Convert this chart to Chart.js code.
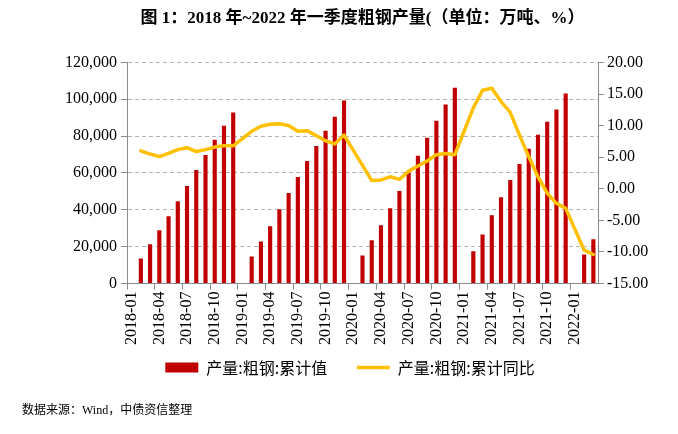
<!DOCTYPE html>
<html>
<head>
<meta charset="utf-8">
<script src="https://cdn.jsdelivr.net/npm/chart.js@4.4.1/dist/chart.umd.min.js"></script>
<style>
  html, body { margin: 0; padding: 0; background: #fff; }
  #wrap { width: 678px; height: 434px; }
</style>
</head>
<body>
<div id="wrap"><canvas id="chart" width="678" height="434"></canvas></div>
<script>
// months 2018-01 .. 2022-03 (January has no separate release, so it is empty)
const months = [
  '2018-01', '2018-02', '2018-03', '2018-04', '2018-05', '2018-06', '2018-07', '2018-08', '2018-09', '2018-10', '2018-11', '2018-12',
  '2019-01', '2019-02', '2019-03', '2019-04', '2019-05', '2019-06', '2019-07', '2019-08', '2019-09', '2019-10', '2019-11', '2019-12',
  '2020-01', '2020-02', '2020-03', '2020-04', '2020-05', '2020-06', '2020-07', '2020-08', '2020-09', '2020-10', '2020-11', '2020-12',
  '2021-01', '2021-02', '2021-03', '2021-04', '2021-05', '2021-06', '2021-07', '2021-08', '2021-09', '2021-10', '2021-11', '2021-12',
  '2022-01', '2022-02', '2022-03'
];

// 产量:粗钢:累计值 (万吨)
const output = [
  null, 13600, 21300, 28900, 36500, 44700, 52900, 61600, 69800, 78000, 85600, 92800,
  null, 14700, 22900, 31100, 40400, 49100, 57800, 66500, 74700, 82900, 90500, 99300,
  null, 15300, 23500, 31600, 40900, 50200, 60000, 69300, 79100, 88400, 97100, 106200,
  null, 17500, 26700, 37100, 46900, 56200, 64900, 73100, 80700, 87800, 94400, 103100,
  null, 15800, 24000
];

// 产量:粗钢:累计同比 (%)
const yoy = [
  null, 6.0, 5.5, 5.1, 5.6, 6.2, 6.5, 5.9, 6.2, 6.6, 6.8, 6.8,
  null, 9.1, 9.9, 10.2, 10.3, 10.0, 9.1, 9.2, 8.4, 7.6, 7.1, 8.5,
  null, 3.7, 1.3, 1.4, 1.9, 1.5, 2.8, 3.6, 4.4, 5.4, 5.6, 5.4,
  null, 12.8, 15.6, 15.9, 13.8, 12.1, 8.5, 5.1, 1.9, -0.7, -2.3, -3.1,
  null, -9.7, -10.4
];

const titleText = '图 1：2018 年~2022 年一季度粗钢产量(（单位：万吨、%）';
const sourceText = '数据来源：Wind，中债资信整理';

const latin = "'Liberation Serif', 'Noto Sans CJK SC'";
const cjk = "'Noto Sans CJK SC', 'Liberation Sans'";
const axisGray = '#8c8c8c';

const ctx = document.getElementById('chart').getContext('2d');

new Chart(ctx, {
  data: {
    labels: months,
    datasets: [
      {
        type: 'bar',
        label: '产量:粗钢:累计值',
        data: output,
        backgroundColor: '#C00000',
        borderWidth: 0,
        barPercentage: 0.5,
        categoryPercentage: 0.9,
        yAxisID: 'y',
        order: 1
      },
      {
        type: 'line',
        label: '产量:粗钢:累计同比',
        data: yoy,
        borderColor: '#FFC000',
        backgroundColor: '#FFC000',
        borderWidth: 3.5,
        borderJoinStyle: 'round',
        borderCapStyle: 'round',
        pointRadius: 0,
        tension: 0,
        spanGaps: true,
        yAxisID: 'y1',
        order: 0
      }
    ]
  },
  options: {
    responsive: false,
    animation: false,
    layout: { padding: { left: 22, right: 0, top: 0, bottom: 12 } },
    plugins: {
      title: {
        display: true,
        text: titleText,
        fullSize: false,
        color: '#000',
        font: { family: latin, size: 17, weight: 'bold' },
        padding: { top: 8, bottom: 34 }
      },
      subtitle: {
        display: true,
        text: sourceText,
        position: 'bottom',
        align: 'start',
        color: '#000',
        font: { family: latin, size: 12 },
        padding: { top: 18, bottom: 4 }
      },
      legend: {
        position: 'bottom',
        labels: {
          color: '#000',
          font: { family: cjk, size: 16 },
          usePointStyle: true,
          pointStyleWidth: 33,
          boxHeight: 10,
          padding: 10,
          // keep the wide gap between the two entries
          generateLabels: chart => chart.data.datasets.map((ds, i) => ({
            text: i === 0 ? ds.label + '\u3000 ' : ds.label,
            fillStyle: ds.type === 'bar' ? ds.backgroundColor : 'rgba(0,0,0,0)',
            strokeStyle: ds.type === 'bar' ? ds.backgroundColor : ds.borderColor,
            lineWidth: ds.type === 'bar' ? 0 : 3.5,
            pointStyle: ds.type === 'bar' ? 'rect' : 'line',
            hidden: false,
            datasetIndex: i
          }))
        }
      },
      tooltip: { enabled: false }
    },
    scales: {
      x: {
        grid: {
          drawOnChartArea: false,
          tickLength: 6,
          tickColor: c => c.index % 3 === 0 ? axisGray : 'rgba(0,0,0,0)'
        },
        border: { color: axisGray },
        ticks: {
          autoSkip: false,
          maxRotation: 90,
          minRotation: 90,
          padding: 2,
          color: '#000',
          font: { family: latin, size: 16 },
          callback: (v, i) => i % 3 === 0 ? months[i] : ''
        },
        afterFit: s => { s.height = 66; }
      },
      y: {
        position: 'left',
        min: 0,
        max: 120000,
        grid: {
          color: '#b4b4b4',
          tickLength: 6,
          tickColor: axisGray
        },
        border: { color: axisGray, dash: [4, 3] },
        ticks: {
          stepSize: 20000,
          padding: 4,
          color: '#000',
          font: { family: latin, size: 16 },
          callback: v => v.toLocaleString('en-US')
        },
        afterFit: s => { s.width = 105; }
      },
      y1: {
        position: 'right',
        min: -15,
        max: 20,
        grid: {
          drawOnChartArea: false,
          tickLength: 6,
          tickColor: axisGray
        },
        border: { color: axisGray },
        ticks: {
          stepSize: 5,
          padding: 3,
          color: '#000',
          font: { family: latin, size: 16 },
          callback: v => v.toFixed(2)
        },
        afterFit: s => { s.width = 80; }
      }
    }
  }
});
</script>
</body>
</html>
